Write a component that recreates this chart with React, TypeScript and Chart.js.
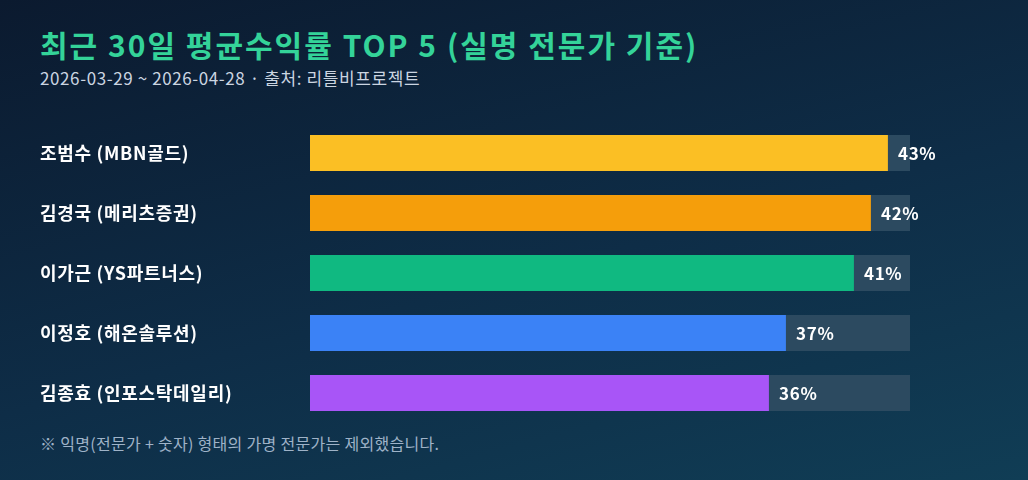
import { useEffect, useRef } from "react";
import Chart from "chart.js/auto";

const experts = [
  "조범수 (MBN골드)",
  "김경국 (메리츠증권)",
  "이가근 (YS파트너스)",
  "이정호 (해온솔루션)",
  "김종효 (인포스탁데일리)",
];
const avgReturns = [43, 42, 41, 37, 36];
const barColors = ["#fbbf24", "#f59e0b", "#10b981", "#3b82f6", "#a855f7"];
const axisMin = 9;
const axisMax = 44.3;

const FONT = "'Noto Sans CJK KR', 'Noto Sans', sans-serif";

// wider glyph spacing for everything drawn on the canvas
const spacing = {
  id: "spacing",
  beforeDraw(chart: Chart) {
    (chart.ctx as any).letterSpacing = "0.7px";
  },
};

const valueLabels = {
  id: "valueLabels",
  afterDatasetsDraw(chart: Chart) {
    const { ctx } = chart;
    const meta = chart.getDatasetMeta(0);
    ctx.save();
    ctx.fillStyle = "#ffffff";
    ctx.font = `bold 17px ${FONT}`;
    ctx.textAlign = "left";
    ctx.textBaseline = "middle";
    meta.data.forEach((bar: any, i: number) => {
      ctx.fillText(`${avgReturns[i]}%`, bar.x + 10, bar.y + 1);
    });
    ctx.restore();
  },
};

export default function App() {
  const chartRef = useRef<HTMLCanvasElement | null>(null);
  const chartInstance = useRef<Chart | null>(null);

  useEffect(() => {
    if (!chartRef.current) return;
    if (chartInstance.current) chartInstance.current.destroy();

    chartInstance.current = new Chart(chartRef.current, {
      type: "bar",
      data: {
        labels: experts,
        datasets: [
          {
            data: avgReturns,
            backgroundColor: barColors,
            grouped: false,
            barPercentage: 0.6,
            categoryPercentage: 1,
          },
          {
            data: experts.map(() => axisMax),
            backgroundColor: "#2c4a60",
            grouped: false,
            barPercentage: 0.6,
            categoryPercentage: 1,
          },
        ],
      },
      options: {
        indexAxis: "y",
        responsive: false,
        animation: false,
        layout: { padding: { left: 0, right: 90, top: 0, bottom: 0 } },
        scales: {
          x: { display: false, min: axisMin, max: axisMax },
          y: {
            grid: { display: false },
            border: { display: false },
            afterFit(scale: any) {
              scale.width = 270;
              scale.paddingTop = 0;
              scale.paddingBottom = 0;
            },
            ticks: {
              crossAlign: "far",
              color: "#ffffff",
              font: { family: FONT, size: 18, weight: "bold" },
            },
          },
        },
        plugins: {
          legend: { display: false },
          tooltip: { enabled: false },
        },
      },
      plugins: [spacing, valueLabels],
    });

    return () => {
      if (chartInstance.current) {
        chartInstance.current.destroy();
        chartInstance.current = null;
      }
    };
  }, []);

  return (
    <div
      style={{
        position: "fixed",
        left: 0,
        top: 0,
        width: 1028,
        height: 480,
        background: "linear-gradient(165deg, #0b1a2f 0%, #0e2d47 55%, #103d55 100%)",
        fontFamily: FONT,
        overflow: "hidden",
      }}
    >
      <div
        style={{
          position: "absolute",
          left: 40,
          top: 24,
          fontSize: 30,
          fontWeight: 700,
          letterSpacing: 2,
          color: "#34d399",
          lineHeight: "40px",
          whiteSpace: "nowrap",
        }}
      >
        최근 30일 평균수익률 TOP 5 (실명 전문가 기준)
      </div>
      <div
        style={{
          position: "absolute",
          left: 40,
          top: 67,
          fontSize: 17,
          letterSpacing: 0.6,
          color: "#cbd5e1",
          lineHeight: "22px",
          whiteSpace: "nowrap",
        }}
      >
        2026-03-29 ~ 2026-04-28 · 출처: 리틀비프로젝트
      </div>
      <canvas
        ref={chartRef}
        width={960}
        height={300}
        style={{ position: "absolute", left: 40, top: 123, width: 960, height: 300 }}
      />
      <div
        style={{
          position: "absolute",
          left: 40,
          top: 432,
          fontSize: 16,
          letterSpacing: 0.3,
          color: "#9fb3c8",
          lineHeight: "22px",
          whiteSpace: "nowrap",
        }}
      >
        ※ 익명(전문가 + 숫자) 형태의 가명 전문가는 제외했습니다.
      </div>
    </div>
  );
}
